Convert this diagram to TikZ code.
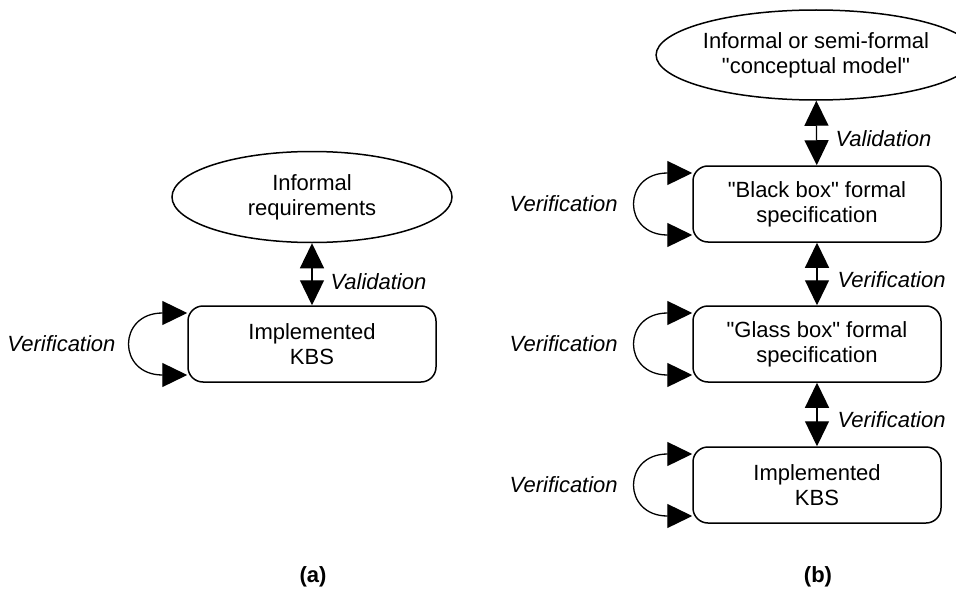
\documentclass[tikz,border=0pt]{standalone}
\usepackage{fontspec}
\setmainfont{Liberation Sans}[Ligatures=TeXOff]
\usetikzlibrary{shapes.geometric, arrows.meta, calc}

\tikzset{
  goal/.style={ellipse, draw, line width=1.5pt, inner sep=0pt, align=center},
  spec/.style={rectangle, draw, rounded corners=15pt, line width=1.5pt,
    minimum width=248pt, minimum height=76pt, inner sep=0pt, align=center},
  link/.style={{Triangle[length=25pt,width=24pt]}-{Triangle[length=25pt,width=24pt]}, line width=1.3pt},
  loop/.style={link, out=180, in=180, looseness=2.9},
  lab/.style={font=\fontsize{22}{25}\selectfont\itshape},
}

\begin{document}
\begin{tikzpicture}[x=1pt, y=-1pt, font=\fontsize{22}{25}\selectfont]
  \useasboundingbox (0,0) rectangle (956,594);

  % (a)
  \node[goal, minimum width=280pt, minimum height=91pt] (reqA) at (312,197) {Informal\\requirements};
  \node[spec] (kbsA) at (312,344) {Implemented\\KBS};
  \draw[link] (reqA) -- (kbsA); %validation
  \node[lab, anchor=west] (valA) at (327,282) {Validation};
  \draw[loop] ($(kbsA.west)+(0,-31)$) to ($(kbsA.west)+(0,31)$);
  \node[lab, anchor=east] (verA) at (119,344) {Verification};
  \node[font=\fontsize{22}{25}\selectfont\bfseries] (capA) at (313,577) {(a)};

  % (b)
  \node[goal, minimum width=277pt, minimum height=90pt] (cm) at (816,55) {Informal or semi-formal\\"conceptual model"};
  \node[spec] (black) at (817,204) {"Black box" formal\\specification};
  \node[spec] (glass) at (817,344) {"Glass box" formal\\specification};
  \node[spec] (kbsB) at (817,485) {Implemented\\KBS};
  \draw[link] (cm) -- (black);
  \draw[link] (black) -- (glass);
  \draw[link] (glass) -- (kbsB);
  \node[lab, anchor=west] (valB) at (832,139) {Validation};
  \node[lab, anchor=west] (verB1) at (834,280) {Verification};
  \node[lab, anchor=west] (verB2) at (834,420) {Verification};
  \foreach \b in {black, glass, kbsB}{
    \draw[loop] ($(\b.west)+(0,-31)$) to ($(\b.west)+(0,31)$);
    \node[lab, anchor=east] (ver-\b) at ($(\b.west)+(-71,0)$) {Verification};
  }
  \node[font=\fontsize{22}{25}\selectfont\bfseries] (capB) at (818,577) {(b)};
\end{tikzpicture}
\end{document}
